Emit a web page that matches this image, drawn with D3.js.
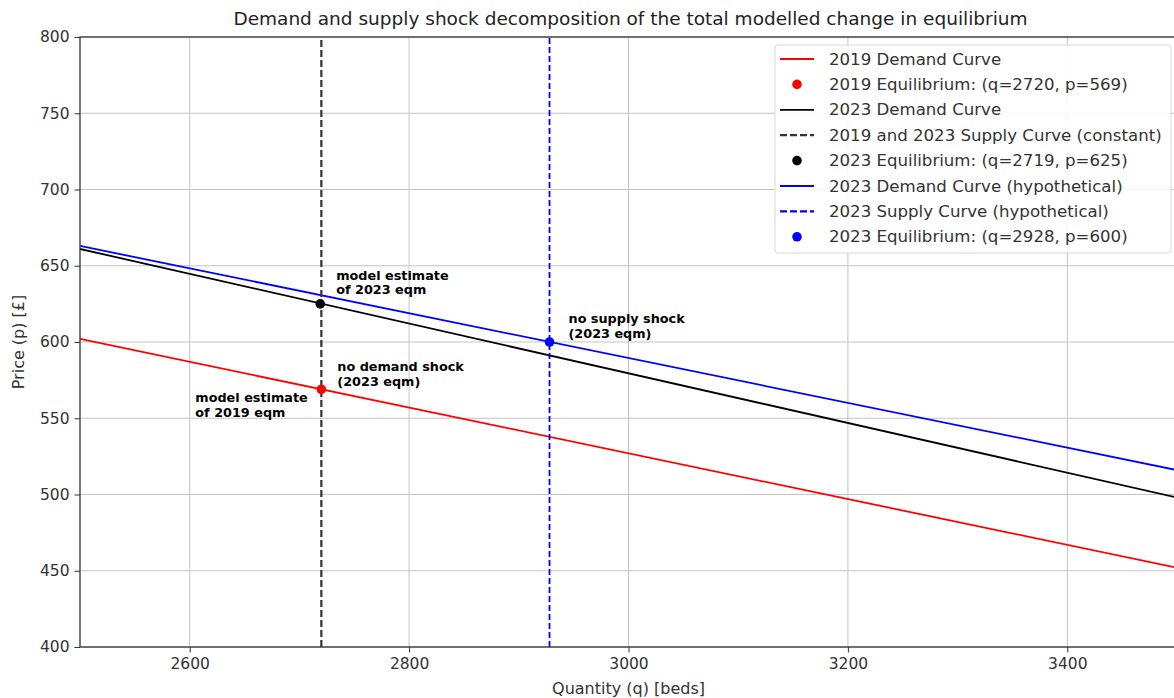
<!DOCTYPE html>
<html>
<head>
<meta charset="utf-8">
<script src="https://cdn.jsdelivr.net/npm/d3@7"></script>
<style>
  body { margin: 0; background: #fff; }
  svg { font-family: "DejaVu Sans", sans-serif; display: block; }
</style>
</head>
<body>
<div id="chart"></div>
<script>
(function() {
    'use strict';

    // axis ranges and ticks
    const xDomain = [2500, 3500];
    const yDomain = [400, 800];
    const xTicks = [2600, 2800, 3000, 3200, 3400];
    const yTicks = [400, 450, 500, 550, 600, 650, 700, 750, 800];

    // demand curves (q, p) at the ends of the axis
    const demand2019 = [[2500, 602], [3500, 452]];
    const demand2023 = [[2500, 661], [3500, 498]];
    const demandHypo = [[2500, 663], [3500, 516]];

    // supply curves (vertical, quantity only)
    const supplyConst = 2720;
    const supplyHypo = 2928;

    // equilibria
    const eq2019 = {q: 2720, p: 569};
    const eq2023 = {q: 2719, p: 625};
    const eqHypo = {q: 2928, p: 600};

    const legendLabels = [
        "2019 Demand Curve",
        "2019 Equilibrium: (q=2720, p=569)",
        "2023 Demand Curve",
        "2019 and 2023 Supply Curve (constant)",
        "2023 Equilibrium: (q=2719, p=625)",
        "2023 Demand Curve (hypothetical)",
        "2023 Supply Curve (hypothetical)",
        "2023 Equilibrium: (q=2928, p=600)"
    ];

    const width = 1174;
    const height = 698;
    const margin = {top: 37, right: -3, bottom: 51, left: 80};

    const svg = d3.select("#chart")
        .append("svg")
        .attr("width", width)
        .attr("height", height);

    const x = d3.scaleLinear().domain(xDomain).range([margin.left, width - margin.right]);
    const y = d3.scaleLinear().domain(yDomain).range([height - margin.bottom, margin.top]);

    svg.append("defs").append("clipPath").attr("id", "clip")
        .append("rect")
        .attr("x", margin.left).attr("y", margin.top)
        .attr("width", width - margin.right - margin.left)
        .attr("height", height - margin.bottom - margin.top);

    // grid
    const grid = svg.append("g");
    grid.selectAll(".gx").data(xTicks).enter().append("line")
        .attr("x1", d => x(d)).attr("x2", d => x(d))
        .attr("y1", y(yDomain[0])).attr("y2", y(yDomain[1]))
        .attr("stroke", "#c4c4c4").attr("stroke-width", 1);
    grid.selectAll(".gy").data(yTicks).enter().append("line")
        .attr("x1", x(xDomain[0])).attr("x2", x(xDomain[1]))
        .attr("y1", d => y(d)).attr("y2", d => y(d))
        .attr("stroke", "#c4c4c4").attr("stroke-width", 1);

    const plot = svg.append("g").attr("clip-path", "url(#clip)");
    const line = d3.line().x(d => x(d[0])).y(d => y(d[1]));

    plot.append("path").datum(demand2019).attr("d", line)
        .attr("fill", "none").attr("stroke", "red").attr("stroke-width", 1.8);
    plot.append("path").datum(demand2023).attr("d", line)
        .attr("fill", "none").attr("stroke", "black").attr("stroke-width", 1.8);
    plot.append("path").datum(demandHypo).attr("d", line)
        .attr("fill", "none").attr("stroke", "blue").attr("stroke-width", 1.8);

    plot.append("line")
        .attr("x1", x(supplyConst)).attr("x2", x(supplyConst))
        .attr("y1", y(yDomain[0])).attr("y2", y(yDomain[1]))
        .attr("stroke", "#333").attr("stroke-width", 2.2)
        .attr("stroke-dasharray", "7,3");
    plot.append("line")
        .attr("x1", x(supplyHypo)).attr("x2", x(supplyHypo))
        .attr("y1", y(yDomain[0])).attr("y2", y(yDomain[1]))
        .attr("stroke", "blue").attr("stroke-width", 1.8)
        .attr("stroke-dasharray", "6,3");

    const points = [
        {e: eq2019, c: "red"},
        {e: eq2023, c: "black"},
        {e: eqHypo, c: "blue"}
    ];
    plot.selectAll("circle").data(points).enter().append("circle")
        .attr("cx", d => x(d.e.q)).attr("cy", d => y(d.e.p))
        .attr("r", 4.8).attr("fill", d => d.c);

    // annotations (offsets in px from the equilibrium point)
    const notes = [
        {e: eq2023, lines: ["model estimate", "of 2023 eqm"], dx: 16, dy: -24},
        {e: eq2019, lines: ["no demand shock", "(2023 eqm)"], dx: 16, dy: -18},
        {e: eq2019, lines: ["model estimate", "of 2019 eqm"], dx: -126, dy: 13},
        {e: eqHypo, lines: ["no supply shock", "(2023 eqm)"], dx: 19, dy: -19}
    ];
    notes.forEach(n => {
        const t = svg.append("text")
            .attr("x", x(n.e.q) + n.dx)
            .attr("y", y(n.e.p) + n.dy)
            .attr("font-size", 12.8).attr("font-weight", "bold")
            .attr("fill", "#000");
        n.lines.forEach((s, i) => {
            t.append("tspan").attr("x", x(n.e.q) + n.dx).attr("dy", i === 0 ? 0 : 14.5).text(s);
        });
    });

    // axes
    const xAxis = svg.append("g")
        .attr("transform", `translate(0,${y(yDomain[0])})`)
        .call(d3.axisBottom(x).tickValues(xTicks).tickSize(5.5).tickPadding(5).tickFormat(d3.format("d")));
    const yAxis = svg.append("g")
        .attr("transform", `translate(${x(xDomain[0])},0)`)
        .call(d3.axisLeft(y).tickValues(yTicks).tickSize(5.5).tickPadding(5).tickFormat(d3.format("d")));
    [xAxis, yAxis].forEach(a => {
        a.selectAll("text").attr("font-size", 15.5).attr("fill", "#333").attr("font-family", "DejaVu Sans");
        a.selectAll("line").attr("stroke", "#333");
        a.select(".domain").remove();
    });

    // spines
    svg.append("rect")
        .attr("x", x(xDomain[0])).attr("y", y(yDomain[1]))
        .attr("width", x(xDomain[1]) - x(xDomain[0]))
        .attr("height", y(yDomain[0]) - y(yDomain[1]))
        .attr("fill", "none").attr("stroke", "#333").attr("stroke-width", 1.3);

    // title and labels
    svg.append("text")
        .attr("x", (x(xDomain[0]) + x(xDomain[1])) / 2 + 2).attr("y", 25)
        .attr("text-anchor", "middle").attr("font-size", 18.5).attr("fill", "#222")
        .text("Demand and supply shock decomposition of the total modelled change in equilibrium");
    svg.append("text")
        .attr("x", (x(xDomain[0]) + x(xDomain[1])) / 2).attr("y", 694)
        .attr("text-anchor", "middle").attr("font-size", 16).attr("fill", "#333")
        .text("Quantity (q) [beds]");
    svg.append("text")
        .attr("transform", `translate(24,${(y(yDomain[0]) + y(yDomain[1])) / 2}) rotate(-90)`)
        .attr("text-anchor", "middle").attr("font-size", 16).attr("fill", "#333")
        .text("Price (p) [£]");

    // legend
    const lg = svg.append("g").attr("transform", "translate(775,45)");
    lg.append("rect")
        .attr("width", 396).attr("height", 208).attr("rx", 3)
        .attr("fill", "white").attr("fill-opacity", 0.85)
        .attr("stroke", "#d8d8d8");
    const handles = [
        {type: "line", c: "red"},
        {type: "dot", c: "red"},
        {type: "line", c: "black"},
        {type: "dash", c: "#333"},
        {type: "dot", c: "black"},
        {type: "line", c: "blue"},
        {type: "dash", c: "blue"},
        {type: "dot", c: "blue"}
    ];
    legendLabels.forEach((label, i) => {
        const cy = 14 + i * 25.4;
        const h = handles[i];
        if (h.type === "dot") {
            lg.append("circle").attr("cx", 22).attr("cy", cy).attr("r", 4.8).attr("fill", h.c);
        } else {
            lg.append("line").attr("x1", 5).attr("x2", 39).attr("y1", cy).attr("y2", cy)
                .attr("stroke", h.c).attr("stroke-width", h.type === "dash" ? 2.2 : 1.8)
                .attr("stroke-dasharray", h.type === "dash" ? "7,3" : null);
        }
        lg.append("text").attr("x", 54).attr("y", cy + 5.5)
            .attr("font-size", 16.6).attr("fill", "#333").text(label);
    });
})();
</script>
</body>
</html>
